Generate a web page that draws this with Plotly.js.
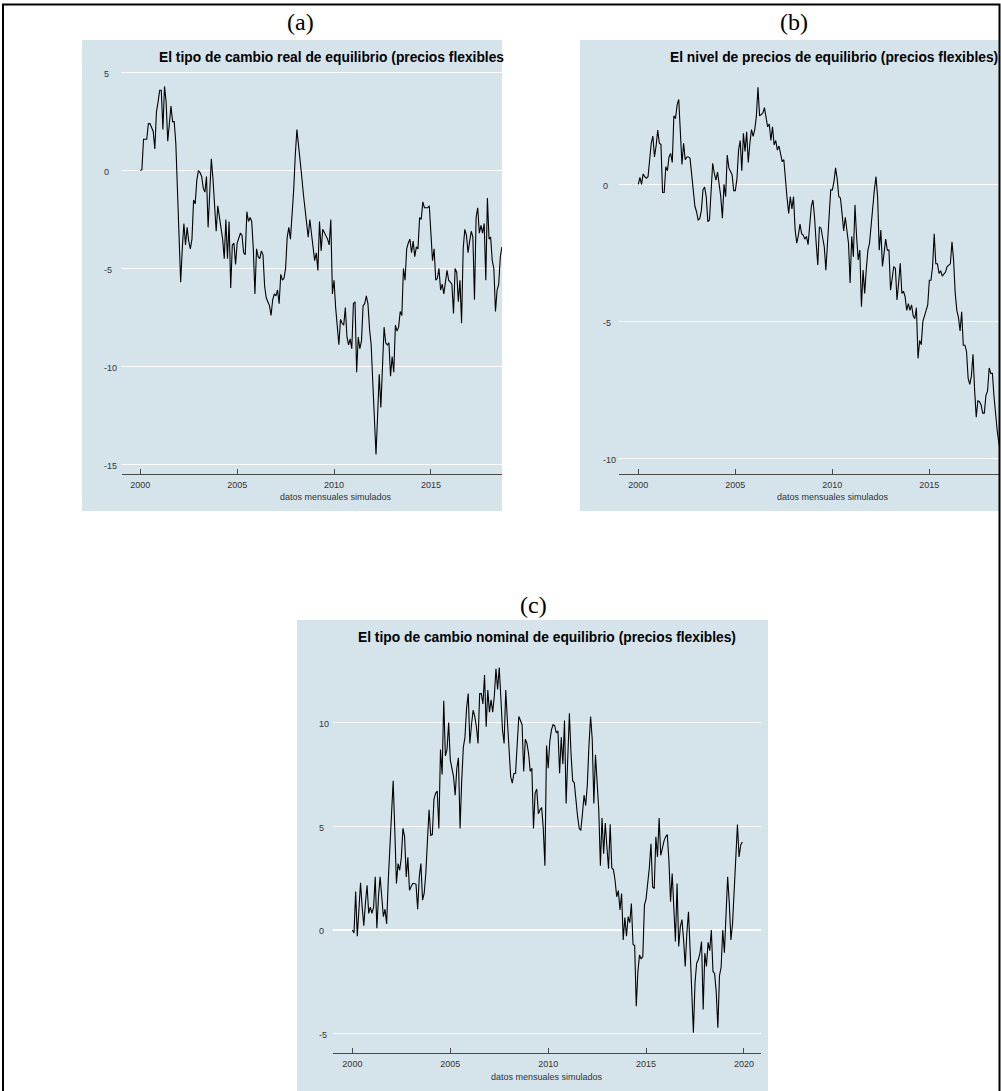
<!DOCTYPE html>
<html>
<head>
<meta charset="utf-8">
<script src="https://cdn.plot.ly/plotly-3.0.1.min.js"></script>
<style>
  html, body { margin: 0; padding: 0; background: #ffffff; }
  #chart { width: 1001px; height: 1091px; }
</style>
</head>
<body>
<div id="chart"></div>
<script>
// ---------------- DATA (monthly, starting 2000-01) ----------------
const startYear = 2000;

// (a) El tipo de cambio real de equilibrio (visible part, 2000-01 .. 2018-09)
const realRate = [
  0.0, 0.05, 1.6, 1.6, 1.6, 2.4, 2.4, 2.2, 2.0, 1.1, 3.0, 3.5,
  4.1, 4.1, 2.1, 4.3, 3.5, 1.5, 2.6, 3.3, 2.5, 2.5, 1.4, -1.0,
  -4.0, -5.7, -4.0, -2.7, -3.8, -2.9, -3.6, -4.0, -3.5, -1.5, -1.7, -0.5,
  0.0, -0.1, -0.3, -0.9, -1.1, -0.3, -2.9, -1.0, 0.6, -0.4, -1.5, -3.1,
  -1.8, -2.4, -2.8, -3.5, -4.5, -2.5, -4.5, -2.6, -6.0, -3.8, -3.7, -4.8,
  -3.7, -3.5, -3.2, -3.3, -4.2, -4.3, -2.1, -2.6, -2.4, -2.6, -4.0, -6.3,
  -4.0, -4.4, -4.5, -4.1, -4.3, -5.9, -6.5, -6.7, -6.9, -7.4, -6.6, -6.3,
  -6.4, -6.1, -6.8, -5.3, -5.6, -5.5, -5.0, -3.4, -2.9, -3.5, -2.4, -1.0,
  0.8, 2.1, 1.3, 0.6, -0.3, -1.2, -1.9, -2.6, -3.4, -2.5, -3.3, -4.1,
  -4.6, -4.2, -5.1, -2.6, -4.1, -3.0, -3.2, -3.3, -3.5, -3.8, -2.5, -6.3,
  -5.6, -7.0, -7.9, -8.9, -7.6, -7.8, -7.9, -7.0, -8.5, -8.9, -8.6, -9.1,
  -6.8, -6.7, -10.3, -8.5, -9.1, -8.7, -6.9, -6.8, -6.4, -6.8, -8.1, -8.9,
  -10.8, -12.5, -14.5, -12.5, -10.4, -12.1, -9.8, -8.0, -8.8, -8.9, -8.8, -10.5,
  -9.5, -10.3, -7.9, -8.2, -8.0, -7.2, -7.4, -5.0, -5.6, -4.0, -3.7, -3.5,
  -4.2, -3.6, -4.4, -3.9, -4.0, -2.4, -2.5, -1.6, -1.9, -1.9, -1.9, -1.8,
  -3.4, -4.6, -4.0, -5.6, -5.5, -5.0, -6.1, -5.8, -6.3, -5.6, -5.1, -5.6,
  -5.7, -5.8, -7.3, -5.0, -5.2, -6.7, -5.6, -7.8, -4.0, -3.0, -3.3, -4.2,
  -3.6, -3.1, -3.4, -6.6, -2.4, -1.9, -3.2, -2.8, -3.2, -2.7, -5.6, -1.4,
  -3.5, -3.4, -4.6, -5.0, -7.2, -6.1, -5.8, -4.4, -3.9
];

// (b) El nivel de precios de equilibrio (visible part, 2000-01 .. 2018-09)
const priceLevel = [
  0.0, 0.25, 0.0, 0.38, 0.28, 0.22, 0.28, 0.83, 1.5, 1.76, 1.0, 1.4,
  1.98, 1.5, 1.45, -0.3, -0.3, 0.64, 0.5, 1.0, 1.13, 0.8, 2.5, 2.4,
  2.9, 3.1, 1.98, 0.73, 1.5, 0.9, 1.0, 1.0, 0.95, 0.4, -0.2, -0.8,
  -1.0, -1.3, -1.25, -0.95, -0.2, -0.1, -0.45, -1.36, -1.3, -0.2, 0.77, 0.4,
  0.15, 0.45, 0.05, -0.45, -1.24, 0.0, -0.45, 1.07, 0.6, 0.45, 0.35, -0.23,
  -0.23, 0.2, 1.25, 1.6, 0.5, 1.86, 1.2, 1.92, 0.8, 1.5, 2.0, 1.75,
  2.0, 2.47, 3.54, 2.5, 2.55, 2.6, 2.8, 2.4, 2.1, 2.2, 1.6, 2.1,
  1.44, 1.6, 1.25, 1.4, 1.1, 0.83, 0.9, 0.0, -0.5, -1.06, -0.45, -0.9,
  -0.45, -1.67, -2.15, -1.85, -1.45, -1.8, -1.85, -2.0, -1.9, -2.2, -1.55, -0.8,
  -0.57, -1.2, -2.15, -2.94, -1.55, -1.6, -1.95, -2.27, -3.13, -2.27, -1.45, -0.2,
  -0.2, 0.1, 0.6, 0.2, -0.45, -0.5, -1.06, -1.7, -1.2, -1.67, -2.15, -3.6,
  -1.9, -2.64, -0.75, -1.9, -2.76, -2.4, -4.47, -3.13, -3.98, -3.1, -2.4, -2.15,
  -1.4, -0.8, -0.2, 0.28, -0.45, -2.4, -1.67, -3.0, -2.4, -2.0, -2.4, -2.4,
  -3.86, -3.3, -3.0, -3.07, -4.22, -3.6, -2.88, -3.98, -3.9, -4.1, -4.6, -4.35,
  -4.6, -4.4, -4.8, -4.9, -4.5, -6.35, -5.7, -5.85, -5.0, -4.8, -4.6, -4.4,
  -3.5, -3.5, -3.0, -1.8, -2.9, -2.9, -3.25, -3.15, -3.35, -3.25, -3.2, -3.0,
  -2.95, -2.9, -2.1, -2.76, -3.98, -4.6, -4.85, -5.35, -4.65, -5.87, -5.87, -6.1,
  -7.08, -7.3, -7.0, -6.2, -7.5, -8.5, -7.9, -7.93, -8.05, -8.35, -8.35, -7.7,
  -7.55, -6.7, -6.9, -6.9, -7.75, -8.5, -9.0, -9.45, -9.8
];

// (c) El tipo de cambio nominal de equilibrio (2000-01 .. 2019-12)
const nominalRate = [
  0.0, -0.15, 1.85, -0.3, 0.96, 2.27, 1.1, 0.2, 1.3, 2.16, 0.8, 1.1,
  0.8, 1.1, 2.56, 0.08, 1.6, 2.56, 1.6, 0.64, 1.0, 0.29, 2.4, 3.84,
  5.5, 7.2, 4.8, 2.24, 3.2, 2.88, 3.5, 4.9, 4.5, 2.56, 3.5, 1.92,
  2.1, 2.24, 2.24, 2.2, 1.0, 2.56, 3.2, 1.44, 1.76, 2.72, 4.3, 5.8,
  4.56, 4.6, 6.3, 6.6, 6.7, 4.9, 8.7, 7.5, 11.06, 8.4, 8.7, 10.0,
  8.2, 7.8, 7.4, 6.5, 7.8, 8.3, 4.9, 7.2, 8.8, 9.3, 10.7, 11.4,
  9.0, 9.9, 10.6, 10.3, 9.8, 9.0, 11.4, 11.4, 10.9, 12.3, 9.8, 11.57,
  10.5, 11.1, 10.5, 11.3, 12.6, 11.6, 12.66, 11.2, 9.65, 9.0, 11.57, 10.1,
  8.5, 7.4, 7.08, 7.55, 7.55, 8.8, 10.3, 10.1, 9.9, 7.65, 9.2, 9.0,
  8.5, 7.65, 7.8, 4.9, 6.6, 6.8, 5.6, 5.8, 5.9, 4.9, 3.1, 8.9,
  7.8, 9.1, 9.65, 9.9, 9.85, 9.5, 9.6, 7.56, 9.3, 8.0, 10.1, 6.1,
  8.0, 10.45, 8.5, 7.2, 7.1, 6.2, 5.5, 4.9, 4.8, 5.6, 6.5, 6.0,
  7.0, 8.9, 10.3, 9.2, 6.1, 8.45, 7.0, 5.8, 3.1, 5.4, 3.68, 5.16,
  4.0, 2.96, 5.1, 3.0, 2.9, 2.4, 1.6, 1.9, 0.96, 1.76, -0.48, 0.6,
  -0.3, 0.64, 0.35, 1.28, -0.7, -0.75, -3.68, -2.0, -1.2, -1.4, -1.28, 1.2,
  1.5, 2.2, 3.0, 4.16, 2.08, 2.0, 4.5, 3.52, 5.4, 3.6, 4.0, 4.3,
  4.5, 4.6, 3.36, 1.36, 2.72, 0.8, -0.56, 2.24, -0.8, 0.16, 0.5, -0.48,
  -1.76, -0.16, 0.88, -0.96, -3.12, -4.96, -2.56, -1.6, -1.44, -1.12, -0.56, -3.84,
  -1.12, -1.76, -0.6, -1.0, 0.0, -2.0, -2.1, -3.0, -4.72, -2.2, -1.8, 0.0,
  -1.1, 0.8, 2.56, 1.3, -0.48, 0.3, 1.9, 3.8, 5.08, 3.52, 4.1, 4.24
];

// Axis ticks / labels
const xTickYears = [2000, 2005, 2010, 2015, 2020];
const yTicksA = [-15, -10, -5, 0, 5];
const yTicksB = [-10, -5, 0];
const yTicksC = [-5, 0, 5, 10];

const titleA = "El tipo de cambio real de equilibrio (precios flexibles";
const titleB = "El nivel de precios de equilibrio (precios flexibles)";
const titleC = "El tipo de cambio nominal de equilibrio (precios flexibles)";
const xLabel = "datos mensuales simulados";
const panelLabels = ["(a)", "(b)", "(c)"];

// ---------------- LAYOUT HELPERS ----------------
const W = 1001, H = 1091;
const X = px => px / W;
const Y = py => 1 - py / H;
const monthsOf = arr => arr.map((_, i) => startYear + Math.floor(i / 12) + (i % 12) / 12);

const BG = '#d5e4eb';
const SANS = 'Liberation Sans, Arial, Helvetica, sans-serif';
const SERIF = 'Liberation Serif, Times New Roman, serif';
const AXC = '#4a4a4a';
const TXT = '#333333';

function xAxis(domain, range, ticks, anchor) {
  return {
    domain: domain, range: range, anchor: anchor,
    showline: true, linecolor: AXC, linewidth: 1,
    ticks: 'inside', ticklen: 5, tickwidth: 1, tickcolor: AXC,
    tickvals: ticks, ticktext: ticks.map(String),
    tickfont: {family: SANS, size: 9, color: TXT},
    ticklabelstandoff: 2,
    showgrid: false, zeroline: false, fixedrange: true
  };
}
function yAxis(domain, range, ticks, anchor) {
  return {
    domain: domain, range: range, anchor: anchor,
    showgrid: true, gridcolor: '#ffffff', gridwidth: 1.3,
    tickvals: ticks, showticklabels: false, ticks: '',
    showline: false, zeroline: false, fixedrange: true
  };
}

const line = {color: '#000000', width: 1.1};
const traces = [
  {x: monthsOf(realRate), y: realRate, xaxis: 'x', yaxis: 'y', type: 'scatter', mode: 'lines', line: line, hoverinfo: 'skip'},
  {x: monthsOf(priceLevel), y: priceLevel, xaxis: 'x2', yaxis: 'y2', type: 'scatter', mode: 'lines', line: line, hoverinfo: 'skip'},
  {x: monthsOf(nominalRate), y: nominalRate, xaxis: 'x3', yaxis: 'y3', type: 'scatter', mode: 'lines', line: line, hoverinfo: 'skip'}
];

const annotations = [];
function yLabels(ticks, yref, leftPx) {
  ticks.forEach(v => annotations.push({
    xref: 'paper', yref: yref, x: X(leftPx), y: v, xanchor: 'left', yanchor: 'middle',
    text: String(v), showarrow: false, yshift: -1.5,
    font: {family: SANS, size: 9, color: TXT}
  }));
}
yLabels(yTicksA, 'y', 102);
yLabels(yTicksB, 'y2', 601);
yLabels(yTicksC, 'y3', 317);

function textAt(text, xpx, ypx, xanchor, font) {
  annotations.push({xref: 'paper', yref: 'paper', x: X(xpx), y: Y(ypx),
    xanchor: xanchor, yanchor: 'middle', text: text, showarrow: false, font: font});
}
const titleFont = {family: SANS, size: 13.8, color: '#000000', weight: 'bold'};
textAt(titleA, 157, 57, 'left', titleFont);
textAt(titleB, 1000, 57, 'right', titleFont);
textAt(titleC, 547, 637, 'center', titleFont);

const axFont = {family: SANS, size: 9, color: TXT};
textAt(xLabel, 336, 497, 'center', axFont);
textAt(xLabel, 833, 497, 'center', axFont);
textAt(xLabel, 547, 1077, 'center', axFont);

const labFont = {family: SERIF, size: 24, color: '#000000'};
textAt(panelLabels[0], 300, 22, 'center', labFont);
textAt(panelLabels[1], 794, 22, 'center', labFont);
textAt(panelLabels[2], 533, 605, 'center', labFont);

const shapes = [
  {type: 'rect', xref: 'paper', yref: 'paper', x0: X(82), x1: X(502), y0: Y(511), y1: Y(40), fillcolor: BG, line: {width: 0}, layer: 'below'},
  {type: 'rect', xref: 'paper', yref: 'paper', x0: X(580), x1: X(999), y0: Y(511), y1: Y(40), fillcolor: BG, line: {width: 0}, layer: 'below'},
  {type: 'rect', xref: 'paper', yref: 'paper', x0: X(297), x1: X(768), y0: Y(1091), y1: Y(620), fillcolor: BG, line: {width: 0}, layer: 'below'},
  {type: 'rect', xref: 'paper', yref: 'paper', x0: X(3), x1: X(999.5), y0: Y(1100), y1: Y(4.5), fillcolor: 'rgba(0,0,0,0)', line: {color: '#000000', width: 2}, layer: 'above'}
];

const layout = {
  width: W, height: H,
  margin: {l: 0, r: 0, t: 0, b: 0, pad: 0},
  paper_bgcolor: '#ffffff', plot_bgcolor: 'rgba(0,0,0,0)',
  showlegend: false,
  xaxis: xAxis([X(121.7), X(502)], [1999.04, 2018.67], xTickYears.slice(0, 4), 'y'),
  yaxis: yAxis([Y(474), Y(68)], [-15.5, 5.24], yTicksA, 'x'),
  xaxis2: xAxis([X(619.3), X(999)], [1999.02, 2018.59], xTickYears.slice(0, 4), 'y2'),
  yaxis2: yAxis([Y(473.7), Y(69)], [-10.56, 4.21], yTicksB, 'x2'),
  xaxis3: xAxis([X(333), X(761)], [1999.01, 2020.87], xTickYears, 'y3'),
  yaxis3: yAxis([Y(1052.7), Y(648)], [-5.92, 13.6], yTicksC, 'x3'),
  annotations: annotations,
  shapes: shapes
};

Plotly.newPlot('chart', traces, layout, {staticPlot: true, displayModeBar: false});
</script>
</body>
</html>
